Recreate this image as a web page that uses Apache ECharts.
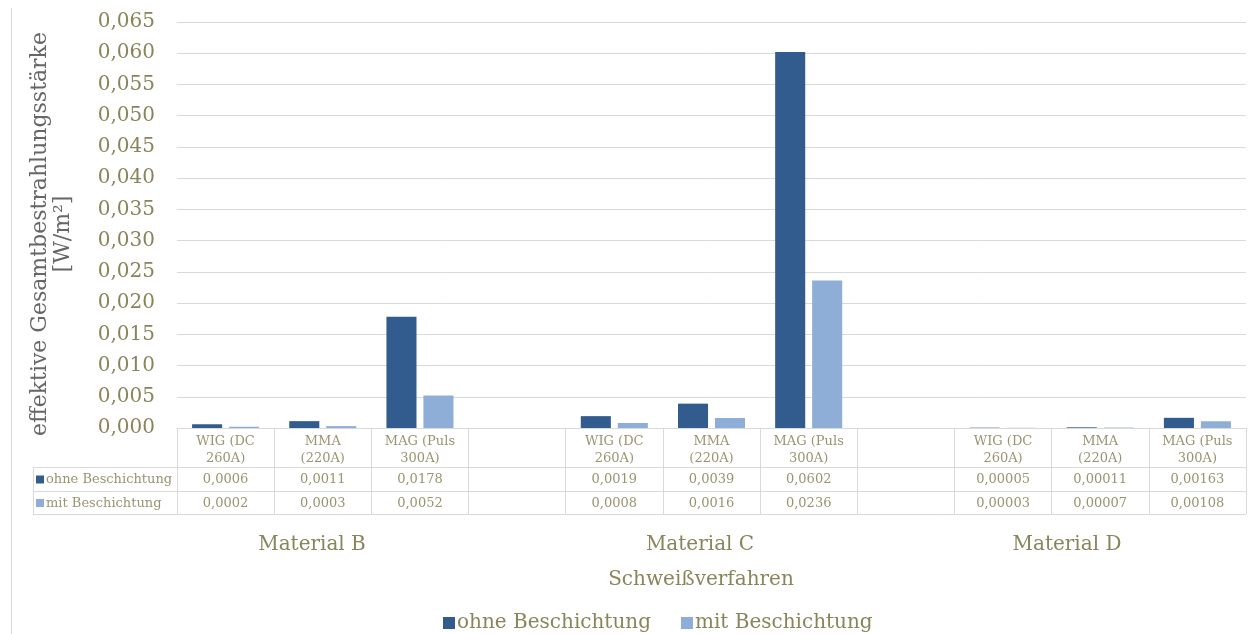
<!DOCTYPE html>
<html>
<head>
<meta charset="utf-8">
<script src="https://cdn.jsdelivr.net/npm/echarts@6/dist/echarts.min.js"></script>
<style>
  html, body { margin: 0; padding: 0; background: #fff; }
  #main { width: 1248px; height: 634px; }
</style>
</head>
<body>
<div id="main"></div>
<script>
// Daten
const verfahren = ['WIG (DC\n260A)', 'MMA\n(220A)', 'MAG (Puls\n300A)', '',
                   'WIG (DC\n260A)', 'MMA\n(220A)', 'MAG (Puls\n300A)', '',
                   'WIG (DC\n260A)', 'MMA\n(220A)', 'MAG (Puls\n300A)'];
const ohneBeschichtung = [0.0006, 0.0011, 0.0178, null, 0.0019, 0.0039, 0.0602, null, 0.00005, 0.00011, 0.00163];
const mitBeschichtung  = [0.0002, 0.0003, 0.0052, null, 0.0008, 0.0016, 0.0236, null, 0.00003, 0.00007, 0.00108];
const materialien = ['Material B', 'Material C', 'Material D'];
const reihen = ['ohne Beschichtung', 'mit Beschichtung'];

const FONT = 'DejaVu Serif';
const OLIVE = '#8a845a';
const OLIVE_HELL = '#9a9470';
const GRAU = '#d9d9d9';
const DUNKEL = '#335c8e';
const HELL = '#8eaed7';

const chart = echarts.init(document.getElementById('main'));

const fmt = v => (v == null ? '' : String(v).replace('.', ','));

const option = {
  animation: false,
  backgroundColor: '#fff',
  color: [DUNKEL, HELL],
  grid: { left: 177, right: 2, top: 22, bottom: 634 - 428 },
  legend: {
    data: reihen,
    left: 438,
    top: 608,
    icon: 'rect',
    itemWidth: 12,
    itemHeight: 12,
    itemGap: 30,
    textStyle: { fontFamily: FONT, fontSize: 20, color: OLIVE, padding: [0, 0, 0, -3] }
  },
  xAxis: {
    type: 'category',
    data: verfahren,
    axisLine: { lineStyle: { color: GRAU } },
    axisTick: { show: true, length: 86, lineStyle: { color: GRAU } },
    axisLabel: {
      interval: 0,
      margin: 5,
      fontFamily: FONT,
      fontSize: 13,
      lineHeight: 17,
      color: OLIVE_HELL
    },
    splitLine: { show: false }
  },
  yAxis: {
    type: 'value',
    min: 0,
    max: 0.065,
    interval: 0.005,
    axisLine: { show: false },
    axisTick: { show: false },
    axisLabel: {
      margin: 22,
      fontFamily: FONT,
      fontSize: 20,
      color: OLIVE,
      formatter: v => v.toFixed(3).replace('.', ',')
    },
    splitLine: { lineStyle: { color: GRAU } }
  },
  series: [
    { name: reihen[0], type: 'bar', data: ohneBeschichtung, barGap: '23%', barCategoryGap: '31%' },
    { name: reihen[1], type: 'bar', data: mitBeschichtung, barGap: '23%', barCategoryGap: '31%' }
  ]
};
chart.setOption(option);

// Datentabelle unter der Achse
function tabelle() {
  const n = verfahren.length;
  const c0 = chart.convertToPixel({ xAxisIndex: 0 }, 0);
  const c1 = chart.convertToPixel({ xAxisIndex: 0 }, 1);
  const w = c1 - c0;
  const links = c0 - w / 2;
  const rechts = links + w * n;
  const yAchse = chart.convertToPixel({ yAxisIndex: 0 }, 0);
  const zeilen = [yAchse + 39, yAchse + 63, yAchse + 86];
  const tabLinks = 33;
  const els = [];
  const linie = (x1, y1, x2, y2) => els.push({
    type: 'line', silent: true,
    shape: { x1, y1, x2, y2 },
    style: { stroke: GRAU, lineWidth: 1 }
  });
  zeilen.forEach(y => linie(tabLinks, y + 0.5, rechts, y + 0.5));
  linie(tabLinks + 0.5, zeilen[0], tabLinks + 0.5, zeilen[2]);

  [ohneBeschichtung, mitBeschichtung].forEach((werte, r) => {
    const yMitte = (zeilen[r] + zeilen[r + 1]) / 2 + 1;
    els.push({
      type: 'rect', silent: true,
      shape: { x: tabLinks + 3, y: yMitte - 4.5, width: 8, height: 8 },
      style: { fill: r === 0 ? DUNKEL : HELL }
    });
    els.push({
      type: 'text', silent: true,
      style: {
        x: tabLinks + 13, y: yMitte, text: reihen[r],
        font: '13px "' + FONT + '"', fill: OLIVE_HELL,
        textAlign: 'left', textVerticalAlign: 'middle'
      }
    });
    werte.forEach((v, i) => {
      els.push({
        type: 'text', silent: true,
        style: {
          x: chart.convertToPixel({ xAxisIndex: 0 }, i), y: yMitte, text: fmt(v),
          font: '13px "' + FONT + '"', fill: OLIVE_HELL,
          textAlign: 'center', textVerticalAlign: 'middle'
        }
      });
    });
  });

  // Materialgruppen
  const matX = [312, 700, 1067];
  materialien.forEach((m, i) => {
    els.push({
      type: 'text', silent: true,
      style: {
        x: matX[i], y: 545, text: m,
        font: '20px "' + FONT + '"', fill: OLIVE,
        textAlign: 'center', textVerticalAlign: 'middle'
      }
    });
  });

  // Achsentitel
  els.push({
    type: 'text', silent: true,
    style: {
      x: 701, y: 580, text: 'Schweißverfahren',
      font: '20px "' + FONT + '"', fill: OLIVE,
      textAlign: 'center', textVerticalAlign: 'middle'
    }
  });
  els.push({
    type: 'text', silent: true,
    x: 52, y: 234, rotation: Math.PI / 2,
    style: {
      x: 0, y: 0, text: 'effektive Gesamtbestrahlungsstärke\n[W/m²]',
      font: '22px "' + FONT + '"', fill: '#666666', lineHeight: 23,
      textAlign: 'center', textVerticalAlign: 'middle'
    }
  });

  // Rahmen links
  linie(11.5, 8, 11.5, 634);

  chart.setOption({ graphic: { elements: els } });
}
tabelle();
</script>
</body>
</html>
